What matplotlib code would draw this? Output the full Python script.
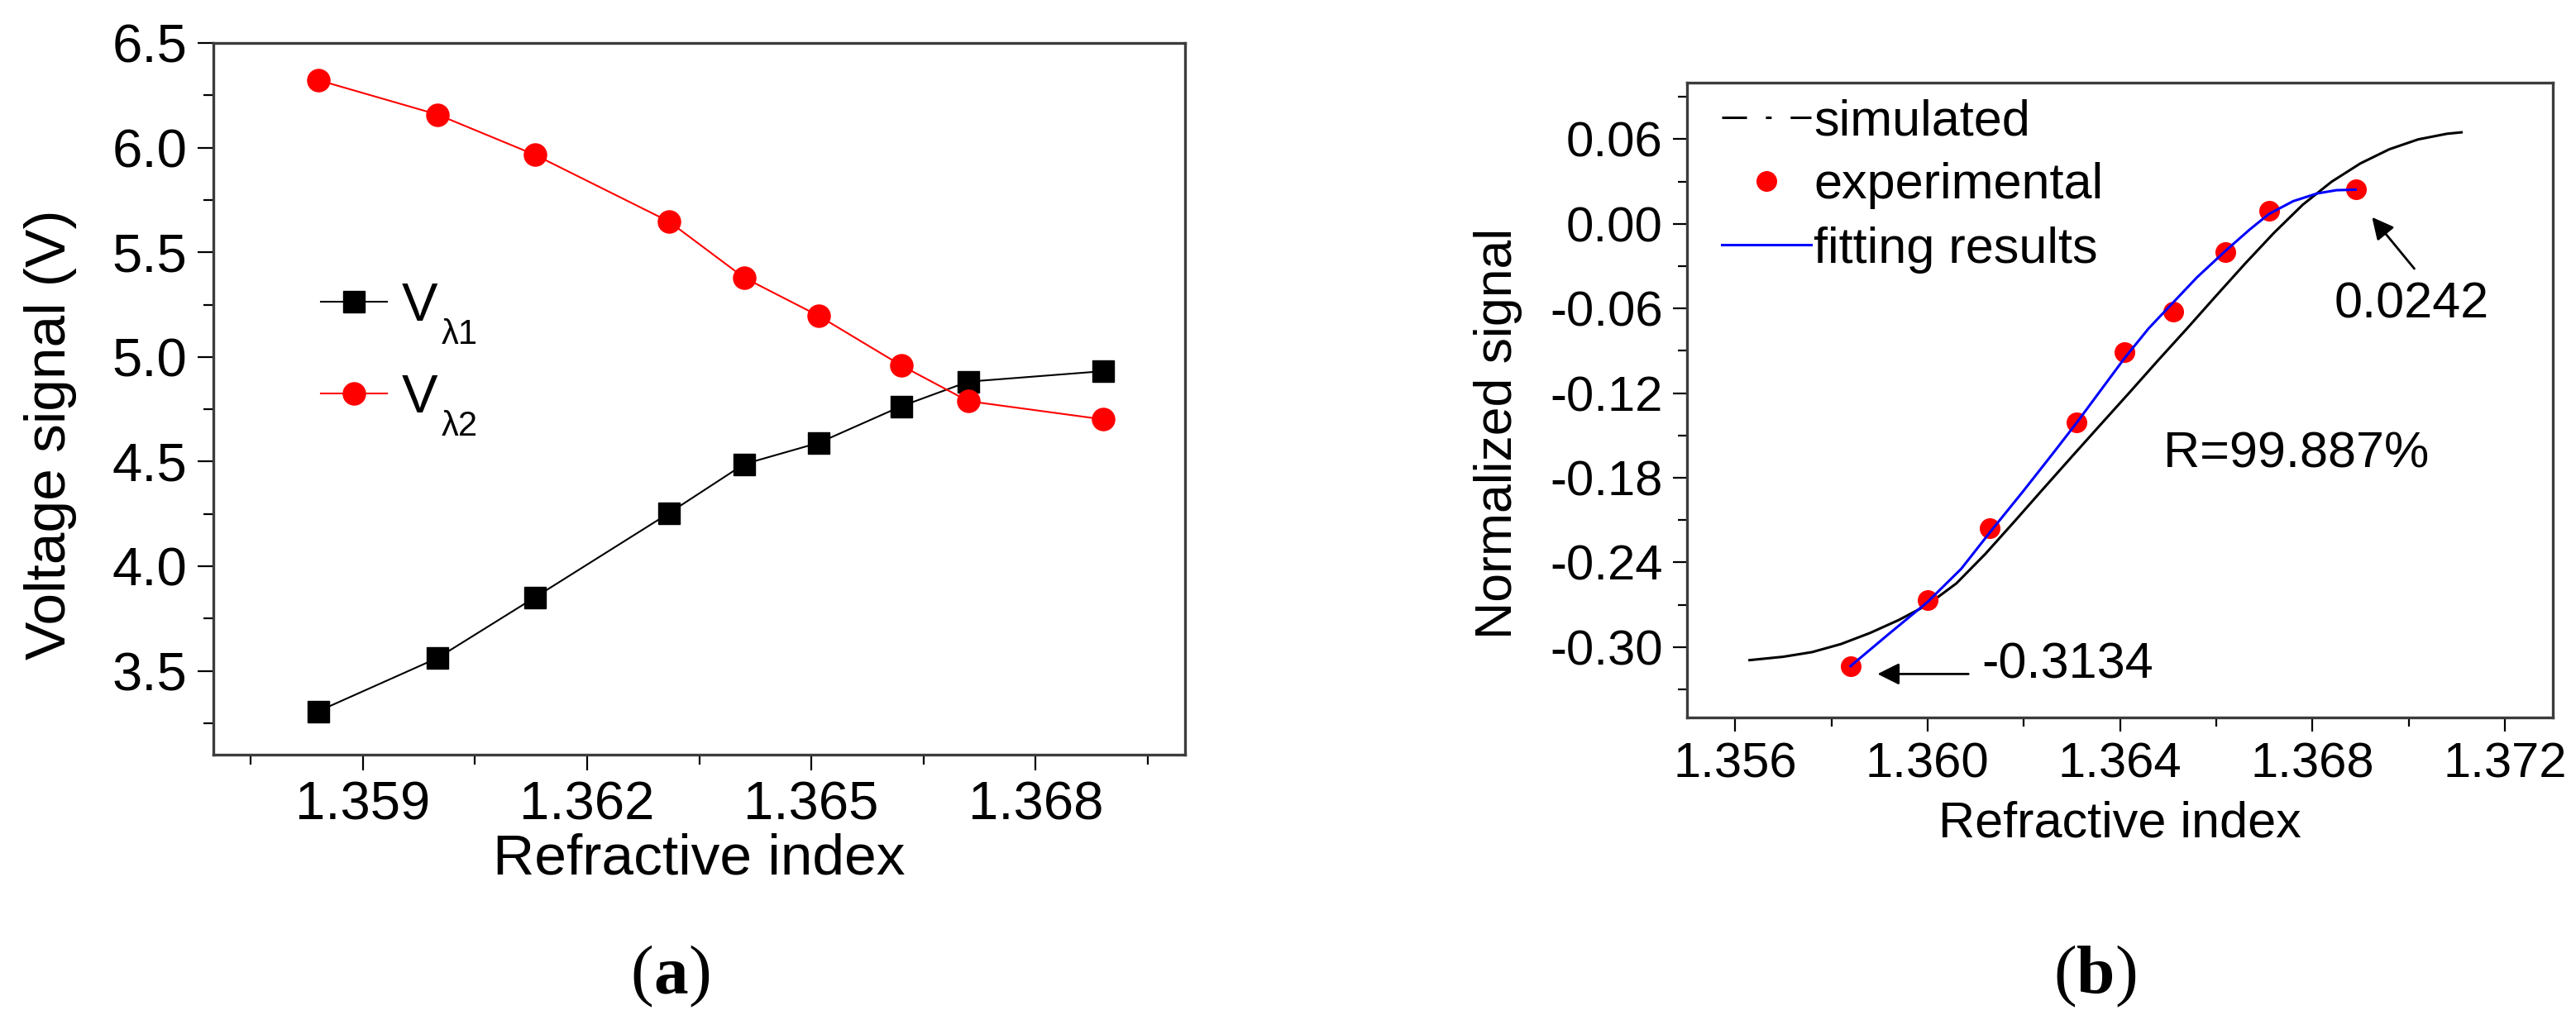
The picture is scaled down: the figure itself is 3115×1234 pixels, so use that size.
import matplotlib
matplotlib.use('Agg')
import matplotlib.pyplot as plt
from matplotlib.ticker import FixedLocator
from matplotlib.lines import Line2D

# ---------------- data ----------------
ri = [1.3584, 1.3600, 1.3613, 1.3631, 1.3641, 1.3651, 1.3662, 1.3671, 1.3689]
v_l1 = [3.307, 3.562, 3.851, 4.255, 4.488, 4.590, 4.764, 4.882, 4.932]
v_l2 = [6.323, 6.158, 5.966, 5.646, 5.379, 5.196, 4.960, 4.789, 4.702]
exp_sig = [-0.3134, -0.2668, -0.2158, -0.1408, -0.0909, -0.0623, -0.0203, 0.0092, 0.0242]

sim_x = [1.3563, 1.3570, 1.3576, 1.3582, 1.3588, 1.3594, 1.3600, 1.3606, 1.3612,
         1.3618, 1.3624, 1.3630, 1.3636, 1.3642, 1.3648, 1.3654, 1.3660, 1.3666,
         1.3672, 1.3678, 1.3684, 1.3690, 1.3696, 1.3702, 1.3708, 1.3711]
sim_y = [-0.3092, -0.3068, -0.3035, -0.2978, -0.2900, -0.2808, -0.2700, -0.2548, -0.2340,
         -0.2112, -0.1880, -0.1650, -0.1422, -0.1195, -0.0965, -0.0740, -0.0510, -0.0283,
         -0.0065, 0.0135, 0.0298, 0.0428, 0.0528, 0.0598, 0.0638, 0.0648]

fit_x = [1.3584, 1.3592, 1.3600, 1.3607, 1.3613, 1.3620, 1.3626, 1.3631, 1.3636, 1.3641,
         1.3646, 1.3651, 1.3656, 1.3662, 1.3667, 1.3671, 1.3676, 1.3681, 1.3685, 1.3689]
fit_y = [-0.3134, -0.2905, -0.2680, -0.2445, -0.2185, -0.1890, -0.1630, -0.1410, -0.1180, -0.0950,
         -0.0740, -0.0560, -0.0380, -0.0190, -0.0040, 0.0070, 0.0160, 0.0215, 0.0238, 0.0242]

a_xticks = [1.359, 1.362, 1.365, 1.368]
a_xticklabels = ['1.359', '1.362', '1.365', '1.368']
a_yticks = [3.5, 4.0, 4.5, 5.0, 5.5, 6.0, 6.5]
a_yticklabels = ['3.5', '4.0', '4.5', '5.0', '5.5', '6.0', '6.5']
b_xticks = [1.356, 1.360, 1.364, 1.368, 1.372]
b_xticklabels = ['1.356', '1.360', '1.364', '1.368', '1.372']
b_yticks = [-0.30, -0.24, -0.18, -0.12, -0.06, 0.00, 0.06]
b_yticklabels = ['-0.30', '-0.24', '-0.18', '-0.12', '-0.06', '0.00', '0.06']

legend_a_main = ['V', 'V']
legend_a_sub = ['λ1', 'λ2']
legend_b = ['simulated', 'experimental', 'fitting results']

# ---------------- style ----------------
plt.rcParams['font.family'] = ['Liberation Sans', 'DejaVu Sans']
plt.rcParams['axes.unicode_minus'] = False
plt.rcParams['lines.scale_dashes'] = False

fig = plt.figure(figsize=(31.15, 12.34), dpi=100)
fig.patch.set_facecolor('white')

SPINE = '#3c3c3c'


def style_axes(ax, maj_len, min_len, labelsize):
    for s in ax.spines.values():
        s.set_color(SPINE)
        s.set_linewidth(2.4)
    ax.tick_params(which='major', direction='out', length=maj_len, width=1.6,
                   labelsize=labelsize, pad=9, top=False, right=False, color='black')
    ax.tick_params(which='minor', direction='out', length=min_len, width=1.6,
                   top=False, right=False, color='black')


# ---------------- panel (a) ----------------
ax = fig.add_axes([0.08283, 0.26013, 0.37721, 0.69773])
l1, = ax.plot(ri, v_l1, color='black', lw=1.5, marker='s', ms=18.5, mec='black', mfc='black',
              zorder=3)
l2, = ax.plot(ri, v_l2, color='#ff0000', lw=1.5, marker='o', ms=19.5, mec='#ff0000',
              mfc='#ff0000', zorder=3)
ax.set_xlim(1.357, 1.370)
ax.set_ylim(3.1, 6.5)
ax.xaxis.set_major_locator(FixedLocator(a_xticks))
ax.set_xticklabels(a_xticklabels)
ax.yaxis.set_major_locator(FixedLocator(a_yticks))
ax.set_yticklabels(a_yticklabels)
ax.xaxis.set_minor_locator(FixedLocator([1.3575, 1.3605, 1.3635, 1.3665, 1.3695]))
ax.yaxis.set_minor_locator(FixedLocator([3.25, 3.75, 4.25, 4.75, 5.25, 5.75, 6.25]))
style_axes(ax, 14, 8.5, 47)
ax.set_xlabel('Refractive index', fontsize=50)
ax.set_ylabel('Voltage signal (V)', fontsize=50)
ax.xaxis.set_label_coords(0.5, -0.110)
ax.yaxis.set_label_coords(-0.1404, 0.45)
leg_a = ax.legend([l1, l2], legend_a_main, loc='upper left', bbox_to_anchor=(0.1106, 0.664),
                  frameon=False, fontsize=47, handlelength=1.225, handletextpad=0.28,
                  borderpad=0, borderaxespad=0, labelspacing=0.78)
leg_a.set_zorder(5)
for txt, sub in zip(leg_a.get_texts(), legend_a_sub):
    ann = ax.annotate(sub, xy=(1.0, 0.0), xycoords=txt, xytext=(3, -10.4),
                      textcoords='offset points', fontsize=30, ha='left', va='baseline')
    ann.set_zorder(20)

# ---------------- panel (b) ----------------
bx = fig.add_axes([0.65490, 0.29635, 0.33612, 0.62261])
bx.plot(sim_x, sim_y, color='black', lw=2.2, zorder=2)
bx.plot(ri, exp_sig, ls='none', marker='o', ms=17, color='#ff0000', zorder=3)
bx.plot(fit_x, fit_y, color='#0000ff', lw=2.2, zorder=4)
bx.set_xlim(1.355, 1.373)
bx.set_ylim(-0.35, 0.10)
bx.xaxis.set_major_locator(FixedLocator(b_xticks))
bx.set_xticklabels(b_xticklabels)
bx.yaxis.set_major_locator(FixedLocator(b_yticks))
bx.set_yticklabels(b_yticklabels)
bx.xaxis.set_minor_locator(FixedLocator([1.358, 1.362, 1.366, 1.370]))
bx.yaxis.set_minor_locator(FixedLocator([-0.33, -0.27, -0.21, -0.15, -0.09, -0.03, 0.03, 0.09]))
style_axes(bx, 12, 8, 43)
bx.set_xlabel('Refractive index', fontsize=44)
bx.set_ylabel('Normalized signal', fontsize=45)
bx.xaxis.set_label_coords(0.5, -0.130)
bx.yaxis.set_label_coords(-0.190, 0.448)

h_sim = Line2D([], [], color='black', lw=2.2, ls=(0, (21.6, 16.5, 5, 16.5)))
h_exp = Line2D([], [], color='#ff0000', ls='none', marker='o', ms=17)
h_fit = Line2D([], [], color='#0000ff', lw=2.2)
bx.legend([h_sim, h_exp, h_fit], legend_b,
          loc='upper left', bbox_to_anchor=(0.040, 0.975), frameon=False, fontsize=44,
          handlelength=1.77, handletextpad=0.05, borderpad=0, borderaxespad=0,
          labelspacing=0.33)

bx.text(1.3649, -0.1638, 'R=99.887%', fontsize=44, ha='left', va='center')
bx.text(1.36846, -0.0575, '0.0242', fontsize=44, ha='left', va='center')
bx.text(1.36112, -0.3130, '-0.3134', fontsize=44, ha='left', va='center')

arrow_kw = dict(arrowstyle='-|>', mutation_scale=40, lw=2.0, color='black',
                shrinkA=0, shrinkB=0)
bx.annotate('', xy=(1.35896, -0.3190), xytext=(1.36085, -0.3190), arrowprops=arrow_kw)
bx.annotate('', xy=(1.36924, 0.0047), xytext=(1.37012, -0.0318), arrowprops=arrow_kw)


# ---------------- panel captions ----------------
def caption(cx, base, letter, half_px):
    off = half_px / 3115
    fig.text(cx, base, letter, fontsize=60, fontweight='bold', family='Liberation Serif',
             ha='center', va='baseline')
    fig.text(cx - off, base, '(', fontsize=60, family='Liberation Serif',
             ha='right', va='baseline')
    fig.text(cx + off, base, ')', fontsize=60, family='Liberation Serif',
             ha='left', va='baseline')


caption(0.2604, 0.0267, 'a', 21)
caption(0.8135, 0.0267, 'b', 23)

fig.savefig('out.png', dpi=100, facecolor='white')
